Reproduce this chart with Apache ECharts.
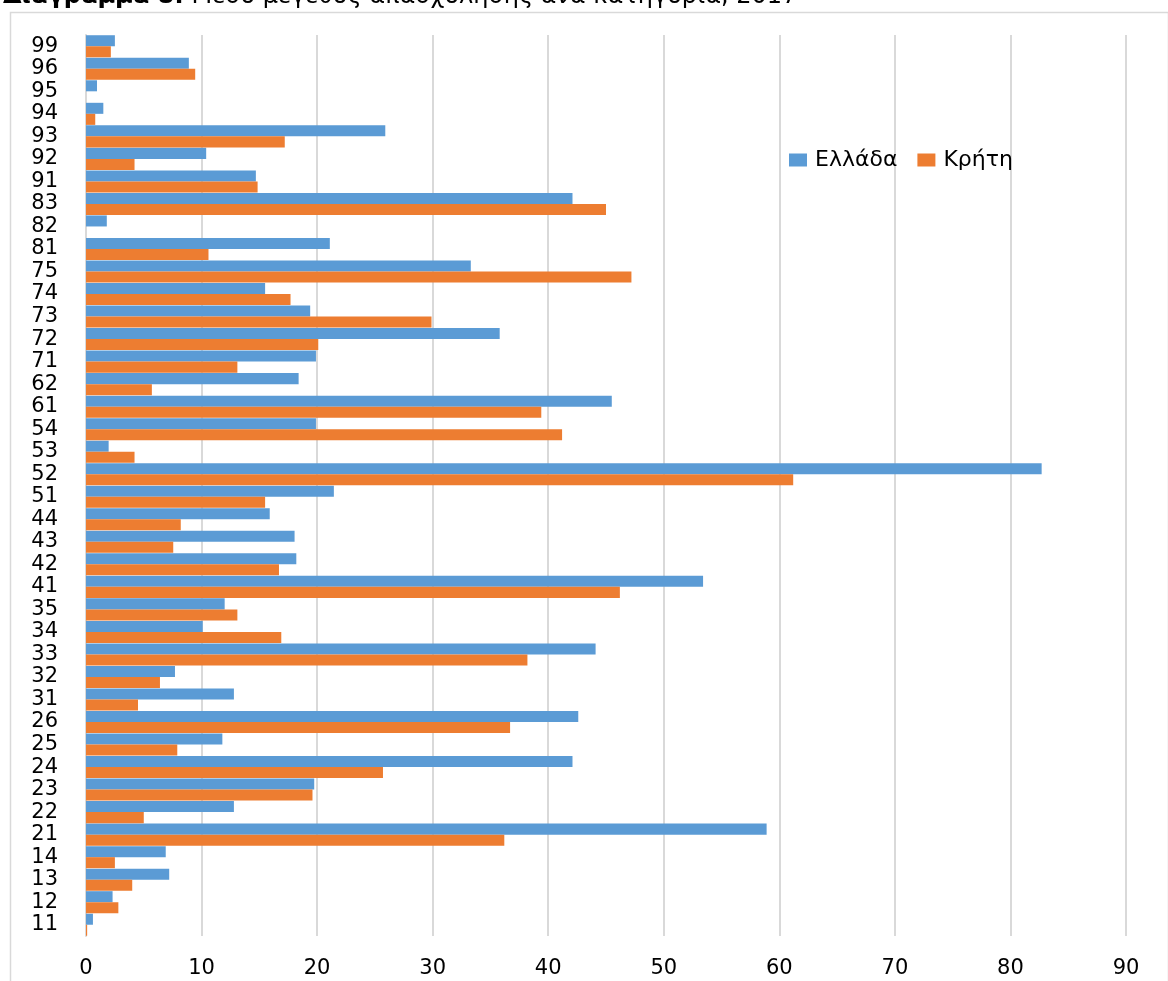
<!DOCTYPE html>
<html>
<head>
<meta charset="utf-8">
<script src="https://cdn.jsdelivr.net/npm/echarts@6/dist/echarts.min.js"></script>
<style>
  html, body { margin: 0; padding: 0; background: #fff; }
  #chart { width: 1168px; height: 981px; }
</style>
</head>
<body>
<div id="chart"></div>
<script>
// Activity codes, listed from the bottom of the axis to the top
const categories = ['11','12','13','14','21','22','23','24','25','26','31','32','33','34','35','41','42','43','44','51','52','53','54','61','62','71','72','73','74','75','81','82','83','91','92','93','94','95','96','99'];

// Ελλάδα
const greece = [0.6,2.3,7.2,6.9,58.9,12.8,19.75,42.1,11.8,42.6,12.8,7.7,44.1,10.1,12.0,53.4,18.2,18.05,15.9,21.45,82.7,1.96,19.9,45.5,18.4,19.9,35.8,19.4,15.5,33.3,21.1,1.8,42.1,14.7,10.4,25.9,1.5,0.95,8.9,2.5];

// Κρήτη
const crete = [0.1,2.8,4.0,2.5,36.2,5.0,19.6,25.7,7.9,36.7,4.5,6.4,38.2,16.9,13.1,46.2,16.7,7.55,8.2,15.5,61.2,4.2,41.2,39.4,5.7,13.1,20.1,29.9,17.7,47.2,10.6,0,45.0,14.85,4.2,17.2,0.8,0,9.45,2.15];

const seriesNames = ['Ελλάδα', 'Κρήτη'];
const xTicks = { min: 0, max: 90, interval: 10 };

const FONT = 'DejaVu Sans';
const chart = echarts.init(document.getElementById('chart'), null, { renderer: 'canvas' });

chart.setOption({
  animation: false,
  backgroundColor: '#fff',
  textStyle: { fontFamily: FONT },
  title: {
    text: '{b|Διάγραμμα 8:} Μέσο μέγεθος απασχόλησης ανά κατηγορία, 2017',
    left: -2,
    top: -20,
    textStyle: {
      fontFamily: FONT,
      fontSize: 24,
      fontWeight: 'normal',
      color: '#000',
      rich: { b: { fontFamily: FONT, fontSize: 24, fontWeight: 'bold', color: '#000' } }
    }
  },
  graphic: [{
    type: 'rect',
    left: 8, top: 10,
    shape: { width: 1158, height: 1000 },
    style: { fill: 'none', stroke: '#d9d9d9', lineWidth: 1.5 },
    silent: true, z: -1
  }],
  legend: {
    data: seriesNames,
    left: 784,
    top: 144,
    itemWidth: 18,
    itemHeight: 13,
    itemGap: 20,
    icon: 'rect',
    textStyle: { fontFamily: FONT, fontSize: 22, color: '#000', padding: [0, 0, 0, 3] }
  },
  grid: { left: 86, right: 42, top: 35, bottom: 45, containLabel: false },
  xAxis: {
    type: 'value',
    min: xTicks.min, max: xTicks.max, interval: xTicks.interval,
    axisLine: { show: false },
    axisTick: { show: false },
    axisLabel: { fontFamily: FONT, fontSize: 21, color: '#000', margin: 22 },
    splitLine: { show: true, lineStyle: { color: '#d9d9d9', width: 2 } }
  },
  yAxis: {
    type: 'category',
    data: categories,
    axisLine: { show: true, lineStyle: { color: '#d9d9d9', width: 2 } },
    axisTick: { show: false },
    axisLabel: { fontFamily: FONT, fontSize: 21, color: '#000', margin: 28, interval: 0 }
  },
  series: [
    {
      name: seriesNames[0], type: 'bar', data: greece,
      barGap: '0%', barCategoryGap: '2%',
      itemStyle: { color: '#5B9BD5' }
    },
    {
      name: seriesNames[1], type: 'bar', data: crete,
      barGap: '0%', barCategoryGap: '2%',
      itemStyle: { color: '#ED7D31' }
    }
  ]
});
</script>
</body>
</html>
